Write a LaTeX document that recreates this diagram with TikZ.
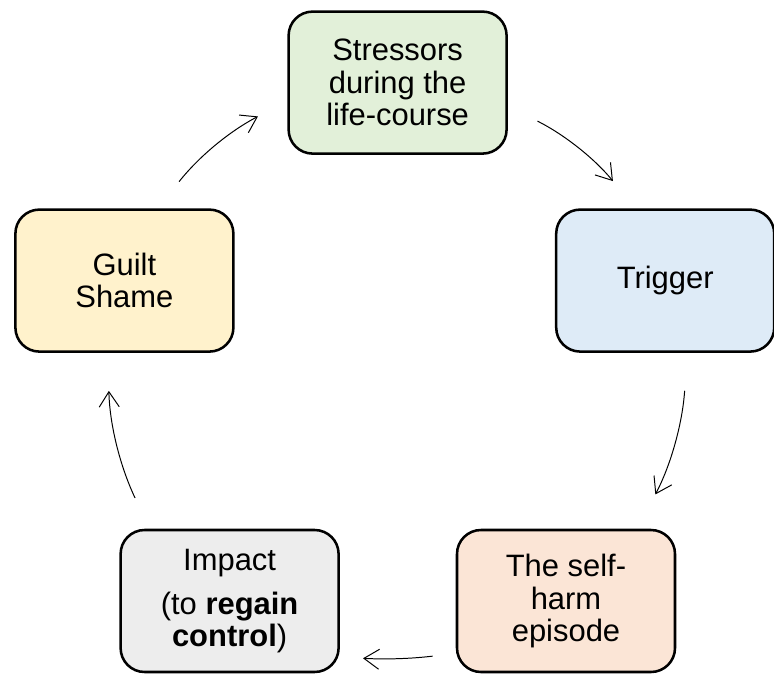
\documentclass[tikz,border=0pt]{standalone}
\usepackage{fontspec}
\setmainfont{Liberation Sans}
\usepackage{tikz}
\usetikzlibrary{arrows.meta}

\definecolor{stressgreen}{HTML}{E2F0D9}
\definecolor{triggerblue}{HTML}{DEEBF7}
\definecolor{harmpeach}{HTML}{FBE5D6}
\definecolor{impactgray}{HTML}{EDEDED}
\definecolor{guiltyellow}{HTML}{FFF2CC}

\tikzset{
  stagebox/.style={draw=black, line width=1.8pt, rounded corners=0.6cm,
    minimum width=5.45cm, minimum height=3.55cm, align=center,
    font=\fontsize{22}{23}\selectfont},
  flow/.style={-{Straight Barb[length=0.38cm,width=0.5cm]}, line width=0.7pt}
}

\begin{document}
\begin{tikzpicture}

\useasboundingbox (0,0) rectangle (19.35,16.825);

% the five stages
\node[stagebox, fill=stressgreen] (stress) at (9.94,14.76)
{Stressors\\during the\\life-course};

\node[stagebox, fill=triggerblue] (trig) at (16.63,9.81)
{Trigger};

\node[stagebox, fill=harmpeach] (harm) at (14.15,1.8)
{The self-\\harm\\episode};

\node[stagebox, fill=impactgray] (impact) at (5.74,1.8)
{Impact\\[0.3cm](to \textbf{regain}\\\textbf{control})};

\node[stagebox, fill=guiltyellow] (guilt) at (3.11,9.81)
{Guilt\\Shame};


% the cycle
\draw[flow, shorten <=0.85cm, shorten >=0.83cm]
([xshift=0.84cm]guilt.north) to[bend left=12] ([yshift=-0.46cm]stress.west);

\draw[flow, shorten <=0.83cm, shorten >=0.88cm]
([yshift=-0.59cm]stress.east) to[bend left=12] ([xshift=-0.75cm]trig.north);

\draw[flow, shorten <=0.95cm, shorten >=0.97cm]
([xshift=0.55cm]trig.south) to[bend left=12] ([xshift=1.78cm]harm.north);

\draw[flow, shorten <=0.58cm, shorten >=0.58cm]
([yshift=-1.31cm]harm.west) to[bend left=5] ([yshift=-1.4cm]impact.east);

\draw[flow, shorten <=0.85cm, shorten >=0.95cm]
([xshift=-2cm]impact.north) to[bend left=12] ([xshift=-0.41cm]guilt.south);

\end{tikzpicture}
\end{document}
